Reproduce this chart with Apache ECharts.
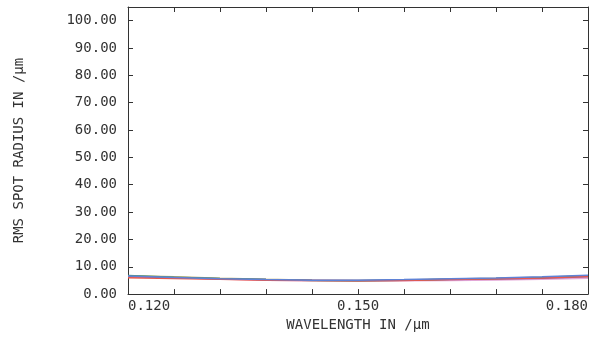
<!DOCTYPE html>
<html>
<head>
<meta charset="utf-8">
<script src="https://cdn.jsdelivr.net/npm/echarts@6/dist/echarts.min.js"></script>
<style>
  html, body { margin: 0; padding: 0; background: #fff; }
  #chart { width: 597px; height: 337px; }
</style>
</head>
<body>
<div id="chart"></div>
<script>
const wavelengths = [0.120, 0.126, 0.132, 0.138, 0.144, 0.150, 0.156, 0.162, 0.168, 0.174, 0.180];
const xTickLabels = ['0.120', '0.150', '0.180'];

const blueField = [6.6, 6.1, 5.6, 5.3, 5.1, 5.1, 5.3, 5.6, 5.9, 6.3, 6.9];
const greenField = [6.8, 6.2, 5.7, 5.3, 5.0, 4.9, 5.1, 5.4, 5.7, 6.1, 6.6];
const redField = [6.0, 5.7, 5.4, 5.1, 5.0, 4.9, 5.0, 5.3, 5.6, 5.9, 6.4];
const oliveField = [6.7, 6.3, 5.8, 5.4, 5.1, 5.0, 5.2, 5.5, 5.8, 6.2, 6.7];
const purpleField = [6.4, 6.0, 5.6, 5.3, 5.1, 5.0, 5.1, 5.3, 5.5, 5.8, 6.3];
const pinkField = [6.5, 6.0, 5.5, 5.1, 4.9, 4.8, 4.9, 5.0, 5.2, 5.4, 5.8];

const font = 'DejaVu Sans Mono';
const ink = '#333';

const fields = [
  { data: pinkField, color: '#e3a6d6' },
  { data: oliveField, color: '#b9a668' },
  { data: purpleField, color: '#8c5ea8' },
  { data: greenField, color: '#4f9a6e' },
  { data: redField, color: '#e8574c' },
  { data: blueField, color: '#5f82d6' }
];

const chart = echarts.init(document.getElementById('chart'), null, { renderer: 'canvas' });

const tick = { show: true, inside: true, length: 5, lineStyle: { color: ink } };
const line = { show: true, onZero: false, lineStyle: { color: ink, width: 1 } };

// the frame runs a little past 100 at the top
const yTop = 105;

chart.setOption({
  animation: false,
  backgroundColor: '#fff',
  grid: { left: 128, right: 9, top: 7, bottom: 41 },
  xAxis: [
    {
      type: 'value', position: 'bottom', min: 0.12, max: 0.18, interval: 0.006,
      axisLine: line, axisTick: tick, splitLine: { show: false },
      axisLabel: {
        color: ink, fontFamily: font, fontSize: 14, margin: 5,
        alignMinLabel: 'left', alignMaxLabel: 'right',
        formatter: (v) => xTickLabels.includes(v.toFixed(3)) ? v.toFixed(3) : ''
      },
      name: 'WAVELENGTH IN /\u00b5m', nameLocation: 'middle', nameGap: 22,
      nameTextStyle: { color: ink, fontFamily: font, fontSize: 14 }
    },
    {
      type: 'value', position: 'top', min: 0.12, max: 0.18, interval: 0.006,
      axisLine: line, axisTick: tick, axisLabel: { show: false }, splitLine: { show: false }
    }
  ],
  yAxis: [
    {
      type: 'value', position: 'left', min: 0, max: yTop, interval: 10,
      axisLine: line, axisTick: tick, splitLine: { show: false },
      axisLabel: {
        color: ink, fontFamily: font, fontSize: 14, margin: 11,
        formatter: (v) => v % 10 === 0 ? v.toFixed(2) : ''
      },
      name: 'RMS SPOT RADIUS IN /\u00b5m', nameLocation: 'middle', nameGap: 102, nameRotate: 90,
      nameTextStyle: { color: ink, fontFamily: font, fontSize: 14 }
    },
    {
      type: 'value', position: 'right', min: 0, max: yTop, interval: 10,
      axisLine: line, axisTick: tick, axisLabel: { show: false }, splitLine: { show: false }
    }
  ],
  series: fields.map((f) => ({
    type: 'line',
    data: wavelengths.map((w, i) => [w, f.data[i]]),
    showSymbol: false,
    lineStyle: { color: f.color, width: 1.5 },
    itemStyle: { color: f.color }
  }))
});
</script>
</body>
</html>
